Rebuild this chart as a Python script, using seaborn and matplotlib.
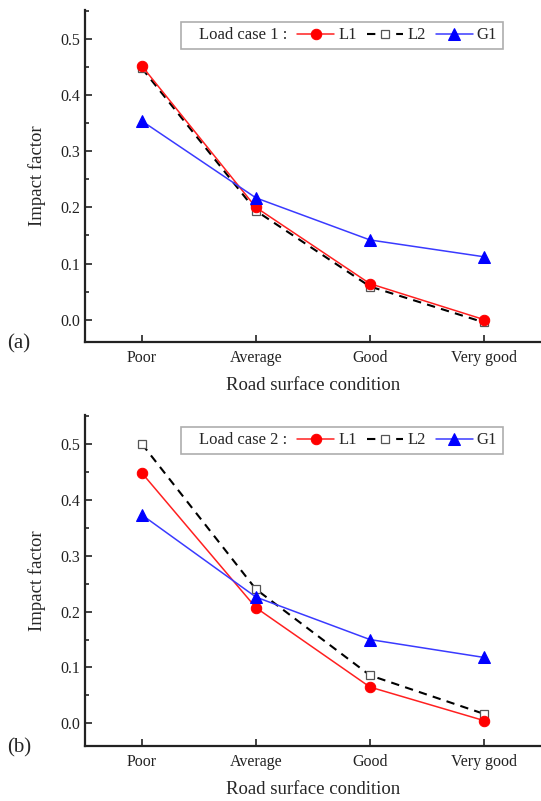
import pandas as pd
import matplotlib
matplotlib.use("Agg")
import matplotlib.pyplot as plt
import seaborn as sns
from matplotlib.ticker import MultipleLocator

# Data
conditions = ["Poor", "Average", "Good", "Very good"]

case1_L1 = [0.452, 0.200, 0.064, 0.000]
case1_L2 = [0.448, 0.194, 0.059, -0.005]
case1_G1 = [0.354, 0.217, 0.142, 0.112]

case2_L1 = [0.448, 0.207, 0.065, 0.005]
case2_L2 = [0.500, 0.240, 0.086, 0.017]
case2_G1 = [0.373, 0.226, 0.150, 0.118]

sns.set_style("ticks")
plt.rcParams['font.family'] = ['Liberation Serif', 'DejaVu Serif']
plt.rcParams['xtick.direction'] = 'in'
plt.rcParams['ytick.direction'] = 'in'

fig = plt.figure(figsize=(5.41, 8.01), dpi=100)
ax1 = fig.add_axes([0.157, 0.573, 0.843, 0.4145])
ax2 = fig.add_axes([0.157, 0.069, 0.843, 0.413])


def make_df(l1, l2, g1):
    rows = []
    for name, vals in [("L1", l1), ("L2", l2), ("G1", g1)]:
        for c, v in zip(conditions, vals):
            rows.append({"condition": c, "series": name, "impact": v})
    return pd.DataFrame(rows)


styles = {
    "L2": dict(color="black", marker="s", markersize=6, markerfacecolor="white",
               markeredgecolor="#555555", markeredgewidth=0.9, dashes=(4, 3), lw=1.5),
    "L1": dict(color="#ff2020", marker="o", markersize=7.5, markerfacecolor="#ff0000",
               markeredgecolor="#ff0000", lw=1.1),
    "G1": dict(color="#3a3aff", marker="^", markersize=8, markerfacecolor="#0000ff",
               markeredgecolor="#0000ff", lw=1.1),
}


def draw(ax, df, case_no, tag):
    for name in ["L2", "L1", "G1"]:
        sub = df[df["series"] == name]
        st = dict(styles[name])
        dashes = st.pop("dashes", None)
        sns.lineplot(data=sub, x="condition", y="impact", ax=ax, sort=False,
                     label=name, **st)
        if dashes is not None:
            ax.lines[-1].set_dashes(dashes)
    ax.set_xlim(-0.5, 3.5)
    ax.set_xticks(range(len(conditions)))
    ax.set_xticklabels(conditions)
    ax.set_ylim(-0.04, 0.552)
    ax.yaxis.set_major_locator(MultipleLocator(0.1))
    ax.yaxis.set_minor_locator(MultipleLocator(0.05))
    ax.yaxis.set_major_formatter(matplotlib.ticker.FormatStrFormatter('%.1f'))
    ax.tick_params(axis='both', which='major', length=5, width=1.2, labelsize=11.5,
                   colors='#222222')
    ax.tick_params(axis='y', which='minor', length=3, width=1.2)
    ax.tick_params(axis='x', pad=6)
    for s in ["top", "right"]:
        ax.spines[s].set_visible(False)
    for s in ["left", "bottom"]:
        ax.spines[s].set_linewidth(1.6)
        ax.spines[s].set_color('#222222')
    ax.set_xlabel("Road surface condition", fontsize=13.5, labelpad=8)
    ax.set_ylabel("Impact factor", fontsize=13.5, labelpad=10)

    handles, labels = ax.get_legend_handles_labels()
    blank = plt.Line2D([], [], linestyle='none')
    order = ["L1", "L2", "G1"]
    hmap = dict(zip(labels, handles))
    leg = ax.legend([blank] + [hmap[o] for o in order],
                    [f"Load case {case_no} :"] + order,
                    ncol=4, loc='upper right', bbox_to_anchor=(0.935, 0.99),
                    fontsize=12, frameon=True, fancybox=False, edgecolor='#999999',
                    handlelength=2.2, handletextpad=0.25, columnspacing=0.6,
                    borderpad=0.35)
    leg.get_frame().set_linewidth(1.2)
    # shrink the empty handle slot in front of the inline legend title
    first_row = leg._legend_handle_box.get_children()[0].get_children()[0]
    first_row.get_children()[0].width = 6
    ax.text(-0.17, -0.005, tag, transform=ax.transAxes, fontsize=15,
            ha='left', va='center')


draw(ax1, make_df(case1_L1, case1_L2, case1_G1), 1, "(a)")
draw(ax2, make_df(case2_L1, case2_L2, case2_G1), 2, "(b)")

fig.savefig("out.png", dpi=100)
